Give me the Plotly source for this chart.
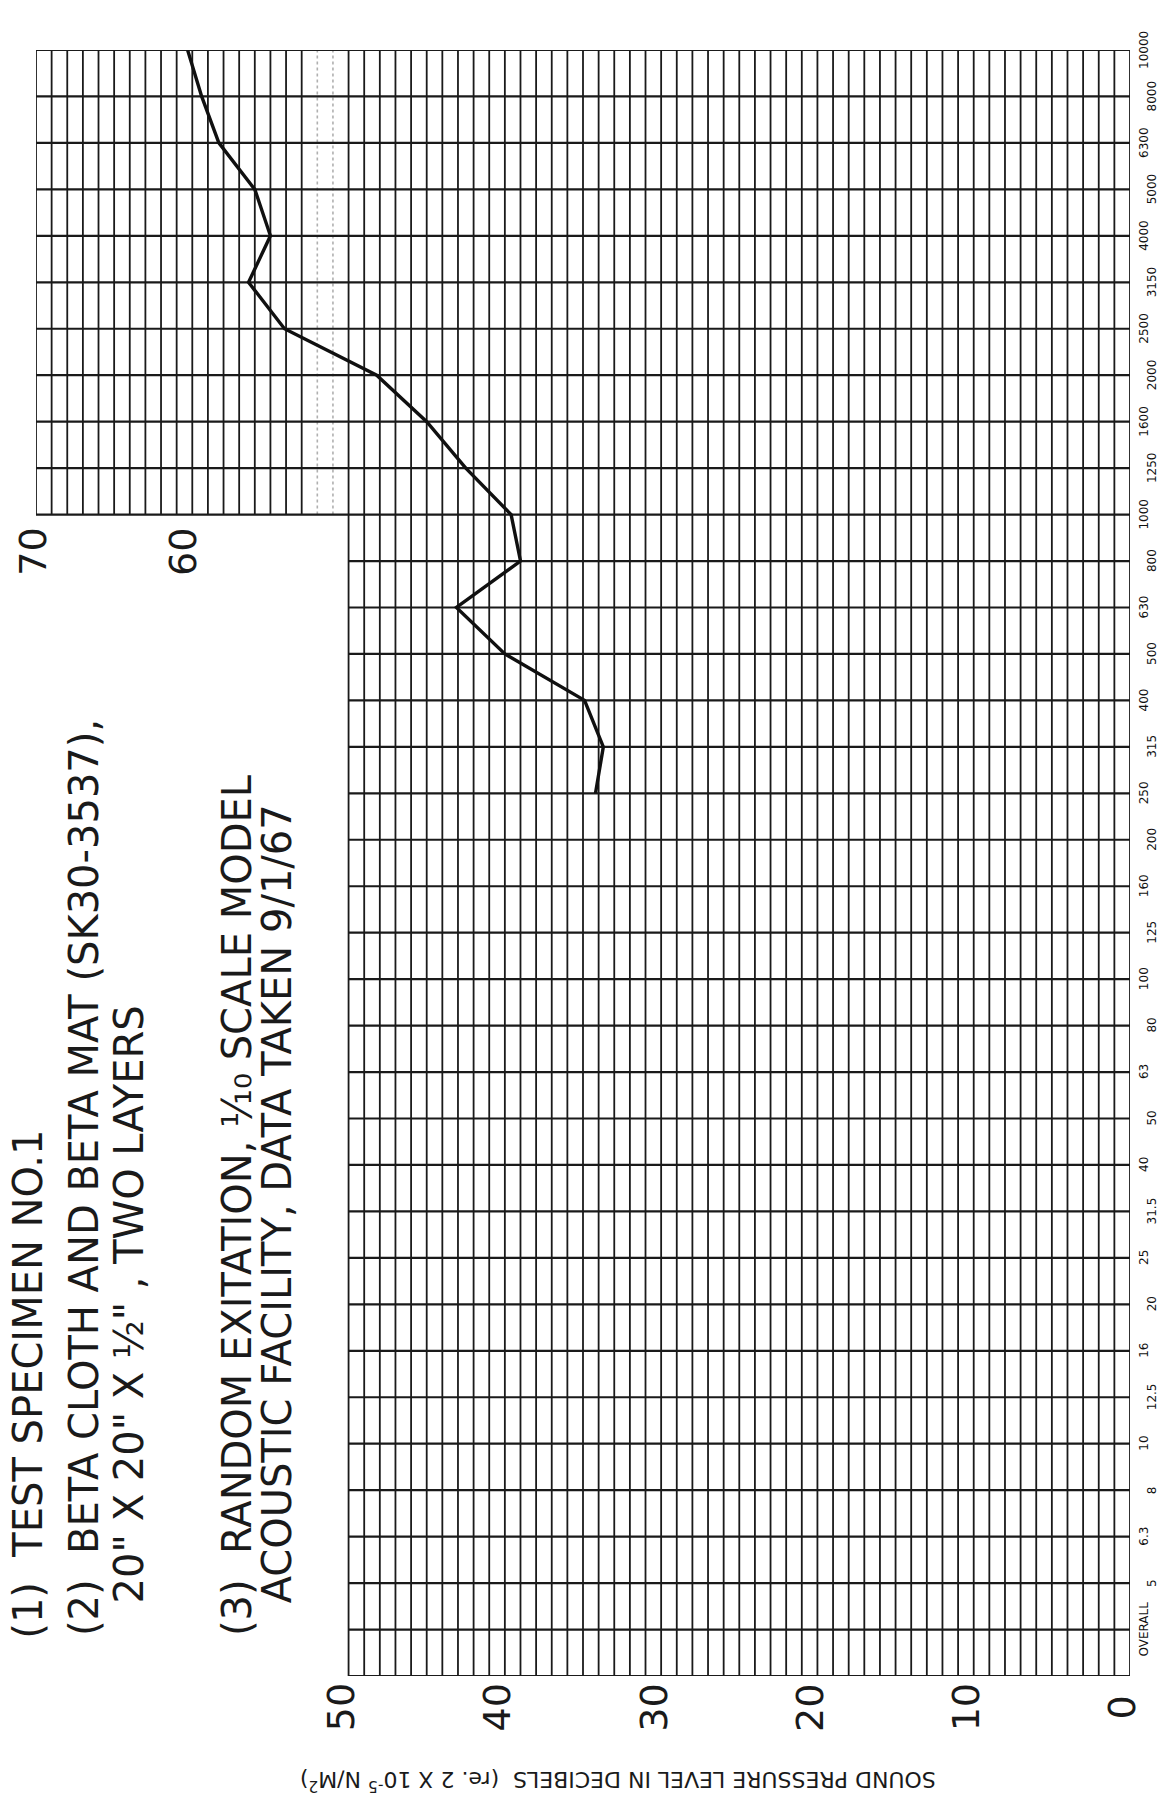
import plotly.graph_objects as go

# ---------------- data ----------------
bands = ["OVERALL", "5", "6.3", "8", "10", "12.5", "16", "20", "25", "31.5", "40",
         "50", "63", "80", "100", "125", "160", "200", "250", "315", "400", "500",
         "630", "800", "1000", "1250", "1600", "2000", "2500", "3150", "4000",
         "5000", "6300", "8000", "10000"]
curve_bands = ["250", "315", "400", "500", "630", "800", "1000", "1250", "1600",
               "2000", "2500", "3150", "4000", "5000", "6300", "8000", "10000"]
spl_db = [34.2, 33.7, 34.9, 40.0, 43.1, 39.0, 39.6, 42.5, 45.0,
          48.2, 54.1, 56.4, 55.0, 56.0, 58.3, 59.4, 60.3]
db_labels_lower = [0, 10, 20, 30, 40, 50]
db_labels_upper = [60, 70]
note_lines = [
    "(1)  TEST SPECIMEN NO.1",
    "(2)  BETA CLOTH AND BETA MAT (SK30-3537),",
    "20\" X 20\" X \u00bd\" , TWO LAYERS",
    "(3)  RANDOM EXITATION, \u2152 SCALE MODEL",
    "ACOUSTIC FACILITY, DATA TAKEN 9/1/67",
]
y_title = "SOUND PRESSURE LEVEL IN DECIBELS  (re. 2 X 10<sup>-5</sup> N/M<sup>2</sup>)"

# ---------------- geometry in data units ----------------
idx = {b: i + 1 for i, b in enumerate(bands)}   # 0 = bottom edge of paper grid
step_idx = idx["1000"]                            # grid widens above 1000 Hz
top_idx = idx["10000"]
lower_max_db = 50
upper_max_db = 70
X_RANGE = [upper_max_db, 0]
Y_RANGE = [0, top_idx]


def xp(d):
    """dB value -> paper fraction along the (reversed) dB axis."""
    return (d - X_RANGE[0]) / (X_RANGE[1] - X_RANGE[0])


def yp(i):
    """band index -> paper fraction along the band axis."""
    return (i - Y_RANGE[0]) / (Y_RANGE[1] - Y_RANGE[0])


INK = "#1a1a1a"
FONT = "DejaVu Sans"
fig = go.Figure()

# vertical grid lines (1 dB each)
vx, vy = [], []
faint_x, faint_y = [], []
for d in range(0, upper_max_db + 1):
    y0 = 0 if d <= lower_max_db else step_idx
    if d in (51, 52):
        faint_x += [d, d, None]
        faint_y += [y0, top_idx, None]
    else:
        vx += [d, d, None]
        vy += [y0, top_idx, None]
fig.add_trace(go.Scatter(x=vx, y=vy, mode="lines", line=dict(color=INK, width=1.8),
                         hoverinfo="skip", showlegend=False))
fig.add_trace(go.Scatter(x=faint_x, y=faint_y, mode="lines",
                         line=dict(color="#b0b0b0", width=1.6, dash="dot"),
                         hoverinfo="skip", showlegend=False))

# horizontal grid lines (one per band)
hx, hy = [], []
for i in range(0, top_idx + 1):
    x1 = upper_max_db if i >= step_idx else lower_max_db
    hx += [0, x1, None]
    hy += [i, i, None]
fig.add_trace(go.Scatter(x=hx, y=hy, mode="lines", line=dict(color=INK, width=2.2),
                         hoverinfo="skip", showlegend=False))

# measured curve
fig.add_trace(go.Scatter(x=spl_db, y=[idx[b] for b in curve_bands], mode="lines",
                         line=dict(color="#101010", width=3.4),
                         hoverinfo="skip", showlegend=False))

ann = []
# frequency labels (staggered, rotated) just right of the 0 dB edge
for i, b in enumerate(bands):
    ann.append(dict(x=xp(0), y=yp(idx[b]), xref="paper", yref="paper", text=b,
                    showarrow=False, textangle=-90, xshift=14 if i % 2 == 0 else 22,
                    font=dict(family=FONT, size=12, color="#111111"),
                    xanchor="center", yanchor="middle"))

# dB labels
for d in db_labels_lower:
    ann.append(dict(x=xp(d), y=yp(-0.68), xref="paper", yref="paper", text=str(d),
                    showarrow=False, textangle=-90, xshift=-8,
                    font=dict(family=FONT, size=38, color=INK),
                    xanchor="center", yanchor="middle"))
for d in db_labels_upper:
    ann.append(dict(x=xp(d), y=yp(step_idx - 0.8), xref="paper", yref="paper",
                    text=str(d), showarrow=False, textangle=-90,
                    xshift=-3 if d == upper_max_db else -10,
                    font=dict(family=FONT, size=38, color=INK),
                    xanchor="center", yanchor="middle"))

# notes block
note_pos = [(70.7, 0.75), (66.5, 0.82), (63.7, 1.53), (56.75, 0.82), (54.2, 1.53)]
note_shift = [3, -6, -6, -6, -6]
for t, (xd, yb), sh in zip(note_lines, note_pos, note_shift):
    ann.append(dict(x=xp(xd), y=yp(yb), xref="paper", yref="paper", text=t,
                    showarrow=False, textangle=-90, xshift=sh,
                    font=dict(family=FONT, size=40, color=INK),
                    xanchor="center", yanchor="bottom"))

# axis title (upside down in the scan)
ann.append(dict(x=xp(32.8), y=yp(-2.26), xref="paper", yref="paper", text=y_title,
                showarrow=False, textangle=180,
                font=dict(family=FONT, size=22, color=INK),
                xanchor="center", yanchor="middle"))

fig.update_layout(
    width=1168, height=1800,
    margin=dict(l=28, r=46, t=42, b=132),
    paper_bgcolor="white", plot_bgcolor="white",
    xaxis=dict(range=X_RANGE, visible=False, fixedrange=True),
    yaxis=dict(range=Y_RANGE, visible=False, fixedrange=True),
    annotations=ann,
    showlegend=False,
)
fig.write_html("out.html")
